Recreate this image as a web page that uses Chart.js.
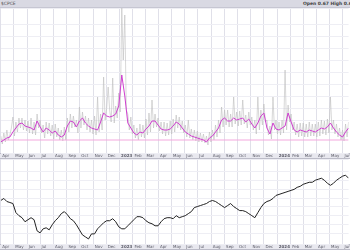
<!DOCTYPE html>
<html>
<head>
<meta charset="utf-8">
<script src="https://cdn.jsdelivr.net/npm/chart.js@4"></script>
<style>
body{margin:0;background:#fff;width:350px;height:250px;overflow:hidden;position:relative;font-family:"DejaVu Sans",sans-serif}
#hdr{position:absolute;left:0;top:0;width:350px;height:8px;background:#d9d9e3;border-bottom:1px solid #c6c6d2;box-sizing:border-box;font-size:4.5px;line-height:7px;color:#555}
#hdr .l{position:absolute;left:1px}
#hdr .r{position:absolute;left:303px;white-space:nowrap;font-weight:bold;color:#444}
canvas{position:absolute;left:0}
</style>
</head>
<body>
<div id="hdr"><span class="l">$CPCE</span><span class="r">Open 0.67 High 0.67 Low 0.6</span></div>
<canvas id="top" width="350" height="151" style="top:8px"></canvas>
<canvas id="bot" width="350" height="91" style="top:159px"></canvas>
<script>
// month axis (days since 1 Apr 2022)
var monthLabels=["Apr","May","Jun","Jul","Aug","Sep","Oct","Nov","Dec","2023","Feb","Mar","Apr","May","Jun","Jul","Aug","Sep","Oct","Nov","Dec","2024","Feb","Mar","Apr","May","Jun"];
var monthDays=[0,30,61,91,122,153,183,214,244,275,306,334,365,395,426,456,487,518,548,579,609,640,671,700,731,761,792];
var refLevel=0.40;

// ratio, two readings a week
var ratioDaily=[
 .44,.36,.47,.38,.50,.40,.45,.52,.63,.44,.58,.48,.62,.52,.62,.50,.60,.49,.59,.47,
 .62,.46,.58,.45,.66,.52,.60,.47,.55,.42,.58,.46,.57,.44,.55,.41,.56,.43,.52,.40,
 .50,.39,.53,.40,.62,.48,.66,.52,.64,.53,.60,.47,.73,.52,.68,.55,.64,.50,.62,.48,
 .60,.46,.64,.45,.83,.48,.66,.50,1.03,.60,.72,.93,.70,.58,1.02,.57,.74,.62,.87,.68,
 1.72,1.20,1.65,.70,.66,.50,.63,.46,.55,.42,.52,.40,.56,.43,.55,.42,.61,.45,.67,.48,
 .80,.52,.66,.53,.62,.49,.58,.46,.58,.44,.57,.45,.59,.46,.61,.48,.65,.52,.63,.50,
 .59,.47,.55,.43,.60,.42,.51,.40,.50,.39,.49,.38,.47,.38,.46,.37,.44,.35,.48,.38,
 .50,.40,.55,.43,.60,.47,.73,.53,.70,.55,.70,.53,.66,.53,.83,.56,.68,.54,.69,.55,
 .80,.56,.65,.52,.68,.55,.63,.50,.60,.46,.83,.50,.70,.55,.76,.58,.60,.45,.54,.41,
 .83,.50,.60,.46,.58,.45,.60,.47,1.10,.50,.75,.58,.66,.50,.58,.45,.56,.43,.57,.44,
 .57,.43,.56,.43,.58,.44,.56,.44,.56,.43,.58,.44,.60,.46,.59,.45,.61,.47,.83,.50,
 .60,.46,.56,.43,.52,.40,.50,.39,.56,.43,.58];
// smoothed ratio, weekly
var ratioAvg=[
 .38,.40,.42,.43,.48,.52,.56,.57,.54,.53,
 .52,.50,.59,.53,.48,.52,.50,.47,.49,.45,
 .43,.45,.54,.59,.58,.53,.59,.62,.57,.54,
 .52,.51,.50,.58,.67,.64,.63,.64,.66,.74,
 1.05,.84,.57,.52,.47,.45,.48,.47,.51,.54,
 .59,.59,.55,.51,.50,.50,.51,.54,.58,.56,
 .52,.48,.46,.44,.43,.42,.41,.40,.38,.42,
 .44,.48,.52,.60,.62,.59,.59,.62,.60,.61,
 .62,.58,.61,.56,.52,.57,.64,.67,.52,.46,
 .57,.51,.50,.52,.54,.67,.58,.50,.48,.50,
 .49,.48,.50,.49,.48,.50,.52,.51,.53,.57,
 .52,.48,.45,.43,.48,.52];
// index close, weekly
var spxWeekly=[
 4682,4740,4653,4624,4595,4334,4247,4189,4073,4131,
 4189,4131,3812,3754,3870,3899,3841,3986,4102,4189,
 4305,4363,4276,4160,4102,3986,3841,3696,3638,3580,
 3725,3725,3870,3957,4044,4102,4102,4160,4073,3928,
 3870,3870,3957,4044,4131,4218,4218,4189,4102,4044,
 4015,3957,3957,4073,4160,4189,4189,4160,4247,4189,
 4218,4247,4305,4363,4479,4508,4537,4566,4595,4653,
 4682,4653,4595,4537,4479,4537,4595,4508,4450,4392,
 4392,4363,4305,4247,4189,4334,4479,4595,4653,4682,
 4740,4827,4856,4885,4914,4943,4972,5001,5059,5088,
 5146,5175,5204,5204,5262,5291,5320,5262,5175,5117,
 5175,5262,5320,5378,5407,5320];

var stripPlugin={
  id:'strip',
  beforeDraw:function(chart){
    var ctx=chart.ctx, s=chart.scales.x;
    ctx.save();
    ctx.fillStyle='#e8e8ef';
    ctx.fillRect(0,s.top,chart.width,s.height);
    ctx.strokeStyle='#bcbcc8';
    ctx.lineWidth=1;
    ctx.beginPath();
    ctx.moveTo(0,s.top+0.5);ctx.lineTo(chart.width,s.top+0.5);
    ctx.moveTo(0,s.bottom-0.5);ctx.lineTo(chart.width,s.bottom-0.5);
    ctx.stroke();
    ctx.restore();
  }
};

function xAxis(){
  return {
    type:'linear',min:0,max:115,
    afterBuildTicks:function(s){s.ticks=monthDays.map(function(d){return {value:d/7};});},
    afterFit:function(s){s.height=6;},
    grid:{color:'#e0e0e9',drawTicks:false},
    border:{display:false},
    ticks:{autoSkip:false,maxRotation:0,align:'start',labelOffset:1.5,padding:0.8,color:'#5a5a66',
      font:function(c){return {size:4,family:'DejaVu Sans',weight:/^20/.test(monthLabels[c.index])?'bold':'normal'};},
      callback:function(v,i){return monthLabels[i];}}
  };
}
function yAxis(min,max,step){
  return {
    min:min,max:max,
    afterFit:function(s){s.width=0;},
    ticks:{display:false,stepSize:step},
    grid:{color:'#eeeef4',drawTicks:false},
    border:{display:false}
  };
}
var common={
  responsive:false,animation:false,events:[],
  layout:{padding:0},
  plugins:{legend:{display:false},tooltip:{enabled:false}}
};

new Chart(document.getElementById('top'),{
  type:'line',
  data:{datasets:[
    {data:ratioAvg.map(function(v,i){return {x:i,y:v};}),borderColor:'#cf3fcf',borderWidth:1,pointRadius:0},
    {data:[{x:0,y:refLevel},{x:115,y:refLevel}],borderColor:'#f3a8de',borderWidth:1,pointRadius:0},
    {data:ratioDaily.map(function(v,i){return {x:i/2,y:v};}),borderColor:'#bdbdbd',borderWidth:0.6,pointRadius:0}
  ]},
  options:Object.assign({},common,{scales:{x:xAxis(),y:yAxis(0.27,1.72,0.12)}}),
  plugins:[stripPlugin]
});

new Chart(document.getElementById('bot'),{
  type:'line',
  data:{datasets:[
    {data:spxWeekly.map(function(v,i){return {x:i,y:v};}),borderColor:'#222',borderWidth:1,pointRadius:0}
  ]},
  options:Object.assign({},common,{scales:{x:xAxis(),y:yAxis(3435,5871,250)}}),
  plugins:[stripPlugin]
});
</script>
</body>
</html>
